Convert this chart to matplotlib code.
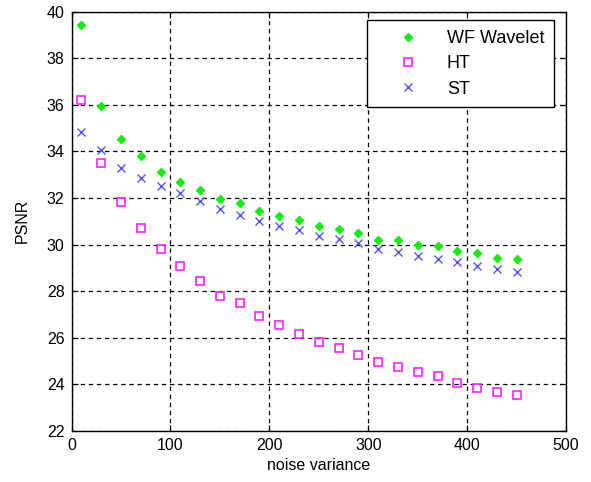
import matplotlib
matplotlib.use("Agg")
import matplotlib.pyplot as plt

plt.rcParams["font.family"] = ["Liberation Sans", "DejaVu Sans"]

# =====================================
# Data
# =====================================

noise_variance = list(range(10, 451, 20))

psnr_wf = [39.44, 35.94, 34.52, 33.79, 33.12, 32.69, 32.32, 31.96, 31.78,
           31.46, 31.22, 31.05, 30.80, 30.67, 30.49, 30.19, 30.19, 30.00,
           29.94, 29.74, 29.63, 29.44, 29.39]

psnr_ht = [36.20, 33.49, 31.83, 30.73, 29.80, 29.07, 28.45, 27.79, 27.47,
           26.93, 26.55, 26.18, 25.82, 25.58, 25.27, 24.97, 24.73, 24.54,
           24.35, 24.05, 23.86, 23.68, 23.55]

psnr_st = [34.84, 34.05, 33.30, 32.86, 32.51, 32.21, 31.88, 31.52, 31.27,
           31.03, 30.79, 30.62, 30.36, 30.24, 30.06, 29.82, 29.70, 29.50,
           29.37, 29.26, 29.07, 28.94, 28.83]

x_ticks = [0, 100, 200, 300, 400, 500]
y_ticks = [22, 24, 26, 28, 30, 32, 34, 36, 38, 40]

# =====================================
# Plot
# =====================================

fig = plt.figure(figsize=(5.91, 4.82), dpi=100)
ax = fig.add_axes([0.121, 0.106, 0.837, 0.870])

ax.plot(noise_variance, psnr_wf, linestyle="none", marker="D",
        markersize=4.5, color="#11ee11", markeredgecolor="#11ee11",
        label="WF Wavelet")
ax.plot(noise_variance, psnr_ht, linestyle="none", marker="s",
        markersize=5.5, markerfacecolor="none", markeredgecolor="#ff22ff",
        markeredgewidth=1.2, label="HT")
ax.plot(noise_variance, psnr_st, linestyle="none", marker="x",
        markersize=6, color="#5555ee", markeredgewidth=1.0, label="ST")

ax.set_xlim(0, 500)
ax.set_ylim(22, 40)
ax.set_xticks(x_ticks)
ax.set_yticks(y_ticks)

ax.grid(True, color="black", linestyle=(0, (3.5, 3)), linewidth=0.9)
ax.tick_params(direction="in", top=True, right=True, length=4,
               labelsize=11.5, color="black", pad=5)
for side in ax.spines.values():
    side.set_linewidth(1.0)

ax.set_xlabel("noise variance", fontsize=11.5, labelpad=4)
ax.set_ylabel("PSNR", fontsize=11.5, labelpad=12)

leg = ax.legend(loc="upper right", bbox_to_anchor=(0.976, 0.979),
                borderaxespad=0, fontsize=13, handlelength=3.4,
                handletextpad=0.45, labelspacing=0.45, borderpad=0.55,
                fancybox=False, framealpha=1, edgecolor="black")
leg.get_frame().set_linewidth(1.0)

plt.savefig("out.png", dpi=100)
